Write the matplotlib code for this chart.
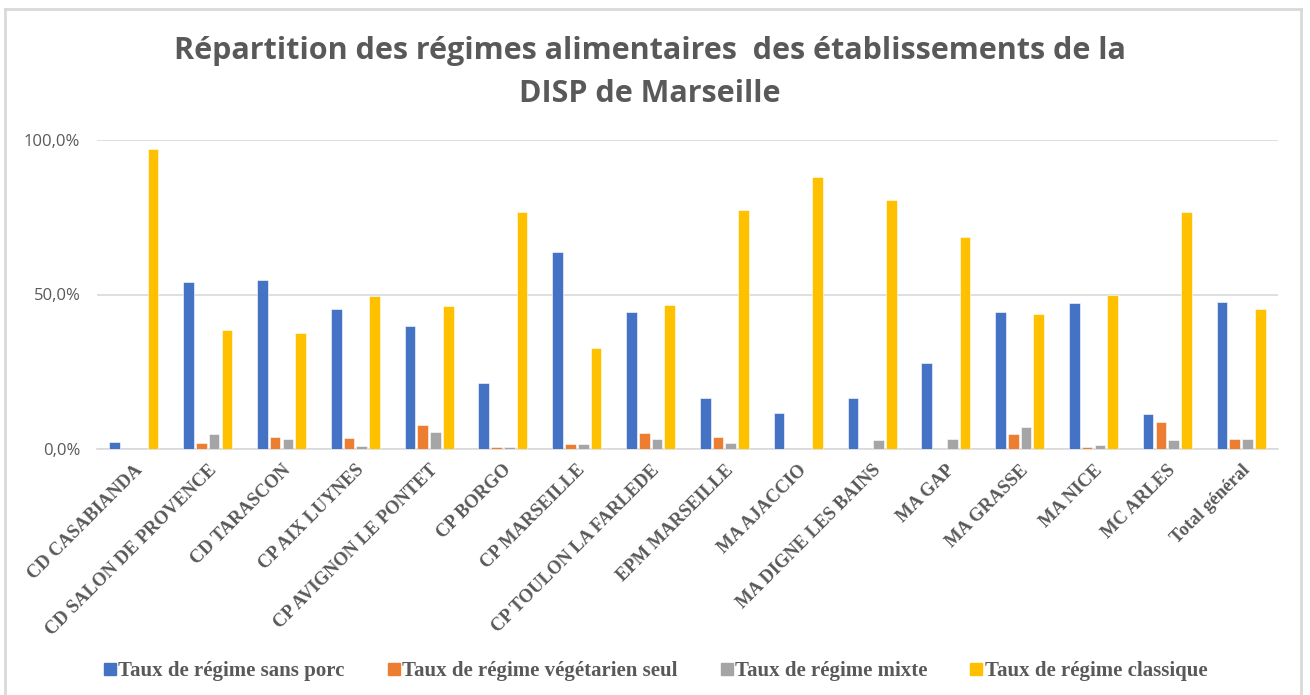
import matplotlib.pyplot as plt
import numpy as np
from matplotlib.lines import Line2D
from matplotlib.ticker import FuncFormatter

etablissements = ["CD CASABIANDA", "CD SALON DE PROVENCE", "CD TARASCON", "CP AIX LUYNES",
                  "CP AVIGNON LE PONTET", "CP BORGO", "CP MARSEILLE", "CP TOULON LA FARLEDE",
                  "EPM MARSEILLE", "MA AJACCIO", "MA DIGNE LES BAINS", "MA GAP", "MA GRASSE",
                  "MA NICE", "MC ARLES", "Total général"]

sans_porc = [2.4, 54.2, 54.7, 45.4, 39.7, 21.2, 63.9, 44.4, 16.5, 11.7, 16.5, 27.9, 44.2, 47.3, 11.3, 47.6]
vegetarien = [0.0, 1.8, 4.0, 3.7, 7.9, 0.7, 1.5, 5.3, 4.0, 0.0, 0.0, 0.0, 4.7, 0.7, 8.8, 3.3]
mixte = [0.0, 4.9, 3.3, 1.1, 5.6, 0.7, 1.5, 3.3, 1.8, 0.0, 2.8, 3.1, 7.2, 1.2, 2.8, 3.2]
classique = [97.2, 38.4, 37.4, 49.6, 46.4, 76.6, 32.7, 46.7, 77.3, 88.1, 80.5, 68.7, 43.6, 50.0, 76.6, 45.4]

series = ["Taux de régime sans porc", "Taux de régime végétarien seul",
          "Taux de régime mixte", "Taux de régime classique"]
couleurs = ["#4472C4", "#ED7D31", "#A5A5A5", "#FFC000"]

W, H = 1310, 695
fig = plt.figure(figsize=(W / 100, H / 100), dpi=100)
ax = fig.add_axes([97 / W, 1 - 449 / H, (1278 - 97) / W, (449 - 140) / H])

x = np.arange(len(etablissements))
slot = 0.173
larg = 0.145
for i, (vals, c) in enumerate(zip([sans_porc, vegetarien, mixte, classique], couleurs)):
    ax.bar(x + (i - 1.5) * slot, np.array(vals) / 100, width=larg, color=c,
           edgecolor="white", linewidth=0.4, zorder=3)

ax.set_xlim(-0.5, len(etablissements) - 0.5)
ax.set_ylim(0, 1)
ax.set_yticks([0, 0.5, 1.0])
ax.yaxis.set_major_formatter(FuncFormatter(lambda v, p: f"{v * 100:.1f}%".replace(".", ",")))
ax.tick_params(axis="y", length=0, pad=12, labelsize=12, labelcolor="#595959")
ax.grid(axis="y", color="#D9D9D9", linewidth=1.2, zorder=0)
for s in ["top", "right", "left"]:
    ax.spines[s].set_visible(False)
ax.spines["bottom"].set_color("#D9D9D9")
ax.spines["bottom"].set_linewidth(1.2)

ax.set_xticks(x)
ax.set_xticklabels(etablissements, rotation=45, ha="right", rotation_mode="anchor",
                   fontfamily="Liberation Serif", fontweight="bold", fontsize=13.3, color="#595959")
ax.tick_params(axis="x", length=0, pad=9)
for lab in ax.get_yticklabels():
    lab.set_fontfamily("Open Sans")

fig.text(0.496, 1 - 51 / H, "Répartition des régimes alimentaires  des établissements de la",
         ha="center", va="center", fontsize=22, fontweight="bold", color="#595959", family="Open Sans")
fig.text(0.496, 1 - 94 / H, "DISP de Marseille",
         ha="center", va="center", fontsize=22, fontweight="bold", color="#595959", family="Open Sans")

handles = [Line2D([0], [0], marker="s", linestyle="", markersize=8, markerfacecolor=c,
                  markeredgecolor=c) for c in couleurs]
fig.legend(handles, series, loc="center", bbox_to_anchor=(0.5, 1 - 671 / H), ncol=4,
           frameon=False, handletextpad=0.05, columnspacing=2.0, handlelength=0.7,
           prop={"family": "Liberation Serif", "weight": "bold", "size": 15},
           labelcolor="#595959")

# cadre gris autour du graphique
for xs, ys in [([5, 5], [9, H]), ([5, 1301], [9, 9]), ([1301, 1301], [9, H])]:
    fig.add_artist(Line2D(np.array(xs) / W, 1 - np.array(ys) / H, color="#D9D9D9", linewidth=2))

fig.savefig("out.png", dpi=100)
